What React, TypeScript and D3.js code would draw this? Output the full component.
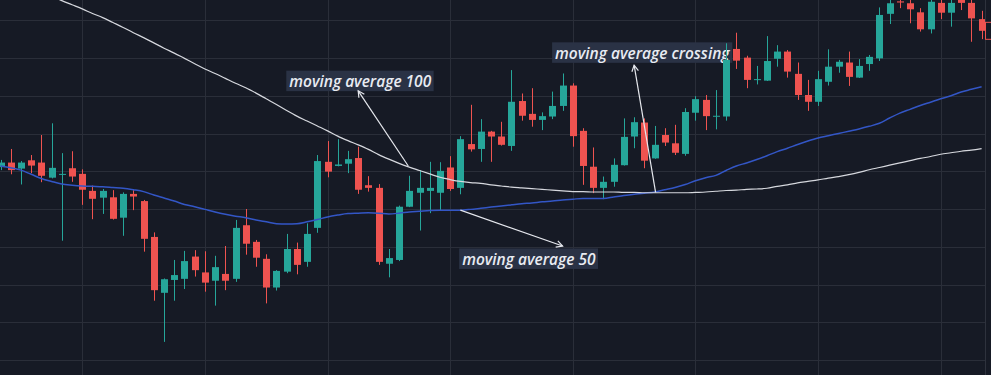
import React, { useEffect, useRef } from "react";
import * as d3 from "d3";

const W = 991;
const H = 375;

const opens = [
  151.1, 152.3, 150.7, 152.9, 152.3, 148.3, 149.1, 150.8, 149.3, 144.8,
  143.0, 143.1, 137.7, 144.0, 142.1, 132.6, 117.8, 121.2, 121.5, 127.4,
  123.2, 121.0, 122.8, 121.5, 135.7, 131.3, 126.8, 119.2, 123.4, 129.4,
  126.0, 135.0, 152.5, 151.4, 152.0, 153.5, 146.3, 145.6, 125.5, 126.5,
  140.6, 144.3, 144.8, 144.3, 151.0, 145.6, 157.2, 155.9, 160.5, 159.2,
  156.7, 168.6, 165.2, 163.6, 164.5, 167.3, 172.7, 160.7, 151.2, 145.6,
  147.2, 151.6, 159.2, 162.9, 153.4, 159.6, 157.4, 154.6, 165.5, 168.9,
  164.5, 164.5, 182.4, 180.1, 174.2, 174.0, 179.8, 181.7, 175.8, 170.2,
  168.4, 173.7, 177.7, 178.8, 174.8, 178.4, 179.9, 191.7, 195.0, 194.5,
  192.1, 187.6, 194.6, 192.0, 195.9, 194.6, 190.3,
];
const highs = [
  153.0, 155.9, 152.7, 154.3, 159.6, 162.7, 154.8, 155.3, 150.5, 146.2,
  145.3, 145.0, 144.4, 145.0, 142.4, 133.8, 121.6, 126.5, 128.9, 129.1,
  128.8, 127.6, 130.2, 137.1, 140.0, 131.8, 128.0, 123.8, 133.4, 131.1,
  136.2, 154.3, 158.0, 158.5, 155.4, 156.5, 148.7, 146.6, 129.4, 140.9,
  148.8, 150.3, 152.5, 152.4, 154.0, 159.3, 167.6, 163.8, 160.7, 163.1,
  176.8, 170.6, 172.0, 165.6, 171.1, 175.9, 173.3, 161.4, 156.3, 148.6,
  153.4, 164.0, 164.3, 164.0, 162.0, 161.4, 162.3, 166.7, 169.9, 170.2,
  171.5, 183.9, 186.7, 180.6, 177.9, 185.8, 183.4, 182.1, 178.8, 174.2,
  176.6, 182.3, 179.5, 181.7, 179.7, 180.8, 193.4, 195.9, 196.2, 195.9,
  193.2, 195.9, 196.2, 196.2, 196.7, 196.2, 192.5,
];
const lows = [
  150.3, 149.2, 146.5, 149.5, 147.1, 148.1, 131.6, 147.2, 141.1, 137.3,
  138.7, 137.2, 132.9, 139.7, 128.7, 115.7, 104.8, 115.7, 118.8, 122.1,
  118.1, 114.4, 118.5, 120.7, 127.9, 124.7, 115.0, 118.4, 123.0, 122.7,
  124.7, 133.7, 148.4, 151.3, 149.5, 144.0, 144.6, 125.2, 121.9, 126.2,
  140.5, 134.3, 138.9, 139.7, 144.8, 143.9, 155.2, 152.5, 152.5, 156.8,
  155.4, 163.4, 161.8, 160.9, 163.8, 166.0, 156.5, 146.4, 144.2, 142.6,
  145.9, 151.5, 156.1, 150.8, 153.3, 156.7, 154.3, 154.1, 163.4, 160.9,
  161.1, 163.4, 177.1, 172.0, 173.0, 173.9, 177.7, 174.8, 168.9, 166.0,
  167.3, 172.7, 176.1, 172.6, 174.7, 176.6, 179.2, 189.0, 193.2, 189.2,
  187.0, 186.5, 190.3, 188.3, 192.7, 184.3, 185.0,
];
const closes = [
  152.3, 150.3, 152.3, 151.5, 148.8, 150.9, 149.3, 148.6, 145.1, 142.7,
  144.8, 137.4, 144.0, 143.3, 132.1, 118.5, 121.4, 122.5, 126.2, 123.8,
  120.5, 124.6, 121.0, 135.0, 130.8, 127.1, 119.2, 123.6, 129.4, 125.2,
  133.4, 152.7, 149.9, 151.8, 153.2, 145.1, 145.6, 126.0, 127.0, 140.6,
  144.8, 145.6, 145.6, 150.1, 145.3, 158.5, 155.8, 160.5, 159.2, 157.0,
  168.4, 164.7, 163.6, 164.6, 167.3, 172.7, 159.3, 151.4, 145.6, 147.2,
  151.7, 159.1, 163.0, 152.8, 157.0, 157.6, 154.9, 165.7, 169.1, 164.6,
  164.7, 179.5, 179.3, 174.2, 174.4, 179.2, 181.7, 176.4, 170.2, 168.4,
  174.4, 177.7, 179.0, 175.0, 177.9, 180.3, 191.4, 194.5, 194.7, 192.9,
  187.6, 194.9, 192.0, 194.6, 194.6, 190.5, 187.2,
];
const ma50 = [
  151.4, 150.9, 150.3, 149.2, 148.1, 147.3, 146.6, 146.3, 146.1, 146.0,
  145.9, 145.7, 145.5, 145.1, 144.6, 143.7, 142.9, 142.1, 141.2, 140.6,
  139.9, 139.2, 138.6, 138.1, 137.7, 137.1, 136.6, 136.1, 136.0, 136.1,
  136.6, 137.2, 137.9, 138.4, 138.8, 138.9, 139.0, 138.9, 138.7, 138.9,
  139.2, 139.4, 139.6, 139.7, 139.7, 139.7, 139.9, 140.2, 140.5, 140.8,
  141.1, 141.4, 141.6, 141.9, 142.1, 142.4, 142.6, 142.8, 142.8, 142.8,
  143.2, 143.6, 143.9, 144.2, 144.5, 145.1, 145.7, 146.5, 147.5, 148.3,
  148.9, 150.2, 151.4, 152.2, 153.1, 154.1, 155.2, 156.1, 157.1, 158.0,
  158.8, 159.4, 160.0, 160.6, 161.2, 161.9, 162.7, 164.1, 165.4, 166.4,
  167.4, 168.3, 169.2, 170.0, 171.0, 171.7, 172.4,
];
const ma100 = [
  202.0, 200.9, 199.8, 198.7, 197.5, 196.4, 195.2, 194.1, 193.0, 191.8,
  190.7, 189.4, 188.1, 186.7, 185.4, 184.0, 182.6, 181.3, 179.9, 178.5,
  177.1, 175.9, 174.6, 173.3, 172.1, 170.7, 169.2, 167.7, 166.1, 164.6,
  163.3, 162.0, 160.7, 159.3, 158.1, 157.0, 155.8, 154.4, 153.2, 152.1,
  151.1, 150.2, 149.3, 148.4, 147.8, 147.3, 147.0, 146.8, 146.4, 146.1,
  145.8, 145.6, 145.4, 145.2, 145.0, 144.8, 144.6, 144.6, 144.5, 144.5,
  144.5, 144.4, 144.4, 144.3, 144.3, 144.3, 144.3, 144.3, 144.4, 144.5,
  144.7, 144.9, 145.0, 145.2, 145.3, 145.5, 146.0, 146.4, 146.9, 147.3,
  147.7, 148.2, 148.6, 149.1, 149.7, 150.4, 151.0, 151.6, 152.2, 152.8,
  153.4, 153.9, 154.5, 154.9, 155.3, 155.6, 156.0,
];

const priceTicks = [100, 110, 120, 130, 140, 150, 160, 170, 180, 190];
const timeTicks = [8, 20, 32, 44, 56, 68, 80, 92];

const annTexts = ["moving average 100", "moving average 50", "moving average crossing"];
const annLabelX = [35.2, 51.7, 62.8];
const annLabelY = [174.0, 126.9, 181.5];
const annFromX = [39.9, 45.0, 64.1];
const annFromY = [151.4, 139.7, 144.4];
const annToX = [35.0, 55.0, 62.0];
const annToY = [171.3, 130.2, 178.1];

const BG = "#161A25";
const GRID = "#2A2E39";
const UP = "#26A69A";
const DOWN = "#EF5350";
const MA50_COLOR = "#3356C6";
const MA100_COLOR = "#D6D8DE";

export default function App() {
  const ref = useRef<SVGSVGElement | null>(null);

  useEffect(() => {
    document.body.style.margin = "0";
    const svg = d3.select(ref.current);
    svg.selectAll("*").remove();

    const x = d3.scaleLinear().domain([0, 96]).range([0.5, 981.6]);
    const y = d3.scaleLinear().domain([100, 190]).range([360, 20.25]);
    const axisX = 985.5;

    svg.append("rect").attr("width", W).attr("height", H).attr("fill", BG);

    const grid = svg.append("g");
    grid
      .selectAll("line.h")
      .data(priceTicks)
      .join("line")
      .attr("x1", 0)
      .attr("x2", axisX)
      .attr("y1", (d) => Math.round(y(d)) + 0.5)
      .attr("y2", (d) => Math.round(y(d)) + 0.5)
      .attr("stroke", GRID)
      .attr("stroke-width", 1);
    grid
      .selectAll("line.v")
      .data(timeTicks)
      .join("line")
      .attr("x1", (d) => Math.round(x(d)) + 0.5)
      .attr("x2", (d) => Math.round(x(d)) + 0.5)
      .attr("y1", 0)
      .attr("y2", H)
      .attr("stroke", GRID)
      .attr("stroke-width", 1);

    // annotation labels (under the candles)
    const labels = svg.append("g");
    annTexts.forEach((t, i) => {
      const g = labels.append("g");
      const rect = g.append("rect").attr("fill", "#2A3245");
      const text = g
        .append("text")
        .text(t)
        .attr("x", x(annLabelX[i]))
        .attr("y", y(annLabelY[i]) + 0.5)
        .attr("text-anchor", "middle")
        .attr("dominant-baseline", "central")
        .attr("font-family", "'Open Sans', sans-serif")
        .attr("font-style", "italic")
        .attr("font-weight", 600)
        .attr("font-size", 15.5)
        .attr("fill", "#E8EBF2");
      const bb = (text.node() as SVGTextElement).getBBox();
      rect
        .attr("x", bb.x - 3)
        .attr("y", y(annLabelY[i]) - 10)
        .attr("width", bb.width + 5)
        .attr("height", 20.5);
    });

    // candles
    const idx = d3.range(opens.length);
    const bw = 7;
    const cg = svg.append("g");
    cg.selectAll("line.wick")
      .data(idx)
      .join("line")
      .attr("x1", (i) => Math.round(x(i)) + 0.5)
      .attr("x2", (i) => Math.round(x(i)) + 0.5)
      .attr("y1", (i) => y(highs[i]))
      .attr("y2", (i) => y(lows[i]))
      .attr("stroke", (i) => (closes[i] >= opens[i] ? UP : DOWN))
      .attr("stroke-width", 1);
    cg.selectAll("rect.body")
      .data(idx)
      .join("rect")
      .attr("x", (i) => Math.round(x(i)) + 0.5 - bw / 2)
      .attr("width", bw)
      .attr("y", (i) => y(Math.max(opens[i], closes[i])))
      .attr("height", (i) => Math.max(1, Math.abs(y(opens[i]) - y(closes[i]))))
      .attr("fill", (i) => (closes[i] >= opens[i] ? UP : DOWN));

    // moving averages
    const line = (arr: number[]) =>
      d3
        .line<number>()
        .x((_, i) => x(i))
        .y((d) => y(d))
        .curve(d3.curveMonotoneX)(arr);
    svg
      .append("path")
      .attr("d", line(ma50))
      .attr("fill", "none")
      .attr("stroke", MA50_COLOR)
      .attr("stroke-width", 1.5);
    svg
      .append("path")
      .attr("d", line(ma100))
      .attr("fill", "none")
      .attr("stroke", MA100_COLOR)
      .attr("stroke-width", 1.2);

    // arrows
    const ag = svg.append("g");
    annTexts.forEach((_, i) => {
      const x1 = x(annFromX[i]);
      const y1 = y(annFromY[i]);
      const x2 = x(annToX[i]);
      const y2 = y(annToY[i]);
      const ang = Math.atan2(y2 - y1, x2 - x1);
      const L = 7;
      const a = (28 * Math.PI) / 180;
      const p1 = [x2 - L * Math.cos(ang - a), y2 - L * Math.sin(ang - a)];
      const p2 = [x2 - L * Math.cos(ang + a), y2 - L * Math.sin(ang + a)];
      ag.append("line")
        .attr("x1", x1)
        .attr("y1", y1)
        .attr("x2", x2)
        .attr("y2", y2)
        .attr("stroke", "#E6E8EE")
        .attr("stroke-width", 1.2);
      ag.append("path")
        .attr("d", `M${p1[0]},${p1[1]}L${x2},${y2}L${p2[0]},${p2[1]}`)
        .attr("fill", "none")
        .attr("stroke", "#E6E8EE")
        .attr("stroke-width", 1.2);
    });

    // price scale border and last price tag
    svg
      .append("line")
      .attr("x1", axisX)
      .attr("x2", axisX)
      .attr("y1", 0)
      .attr("y2", H)
      .attr("stroke", "#2E323D");
    const last = closes[closes.length - 1];
    svg
      .append("rect")
      .attr("x", axisX)
      .attr("y", y(last) - 8.5)
      .attr("width", 20)
      .attr("height", 17)
      .attr("fill", BG)
      .attr("stroke", DOWN)
      .attr("stroke-width", 1);
  }, []);

  return (
    <svg
      ref={ref}
      width={W}
      height={H}
      style={{ display: "block", position: "absolute", left: 0, top: 0 }}
    />
  );
}
